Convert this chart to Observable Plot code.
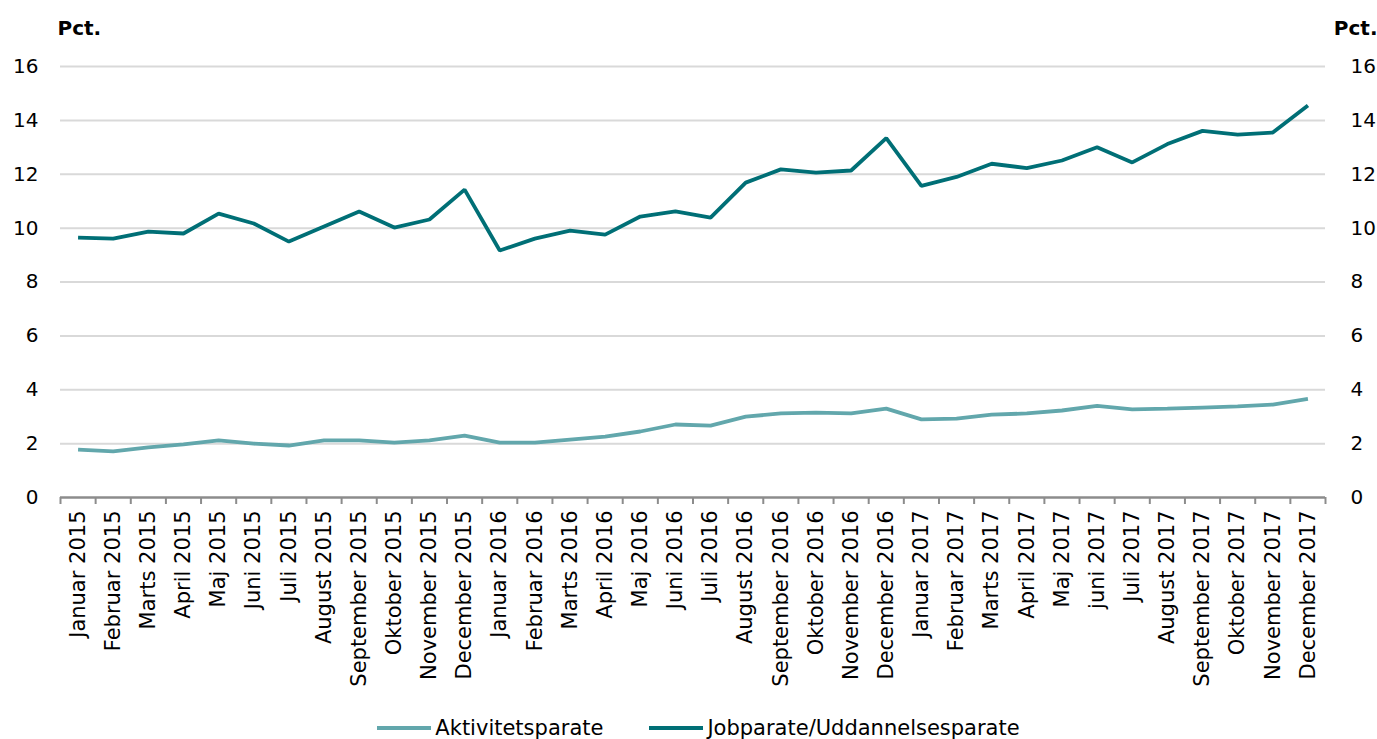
<!DOCTYPE html>
<html>
<head>
<meta charset="utf-8">
<script src="https://cdn.jsdelivr.net/npm/d3@7"></script>
<script src="https://cdn.jsdelivr.net/npm/@observablehq/plot@0.6"></script>
<style>
  body { margin: 0; background: #fff; font-family: "DejaVu Sans", Verdana, sans-serif; }
  #legend { display: flex; justify-content: center; align-items: center; gap: 46px; margin-top: 10px; font-size: 21px; line-height: 24px; padding-left: 20px; color: #000; }
  .item { display: flex; align-items: center; gap: 4px; }
  .sw { width: 54px; height: 4px; display: inline-block; }
</style>
</head>
<body>
<div id="chart"></div>
<div id="legend"></div>
<script>
const months = ["Januar 2015","Februar 2015","Marts 2015","April 2015","Maj 2015","Juni 2015","Juli 2015","August 2015","September 2015","Oktober 2015","November 2015","December 2015",
"Januar 2016","Februar 2016","Marts 2016","April 2016","Maj 2016","Juni 2016","Juli 2016","August 2016","September 2016","Oktober 2016","November 2016","December 2016",
"Januar 2017","Februar 2017","Marts 2017","April 2017","Maj 2017","juni 2017","Juli 2017","August 2017","September 2017","Oktober 2017","November 2017","December 2017"];

const aktivitetsparate = [1.78,1.71,1.86,1.97,2.12,2.00,1.93,2.12,2.12,2.04,2.12,2.30,
2.04,2.04,2.15,2.26,2.45,2.71,2.67,3.00,3.12,3.15,3.12,3.30,
2.90,2.93,3.08,3.12,3.23,3.40,3.27,3.30,3.34,3.38,3.45,3.66];

const jobparate = [9.65,9.61,9.87,9.80,10.54,10.17,9.50,10.06,10.62,10.02,10.32,11.43,
9.17,9.61,9.91,9.76,10.43,10.62,10.39,11.69,12.18,12.06,12.14,13.34,
11.57,11.90,12.39,12.23,12.51,13.00,12.44,13.12,13.61,13.47,13.55,14.55];

const seriesNames = ["Aktivitetsparate", "Jobparate/Uddannelsesparate"];
const seriesColors = ["#62a7ac", "#006f76"];
const yTicks = [0, 2, 4, 6, 8, 10, 12, 14, 16];
const unitLabel = "Pct.";

const data = [];
months.forEach((m, i) => {
  data.push({i, month: m, series: seriesNames[0], value: aktivitetsparate[i]});
  data.push({i, month: m, series: seriesNames[1], value: jobparate[i]});
});
const idx = d3.range(months.length);
const bounds = d3.range(months.length + 1).map(i => i - 0.5);

const chart = Plot.plot({
  width: 1377,
  height: 706,
  marginLeft: 60,
  marginRight: 52,
  marginTop: 66,
  marginBottom: 209,
  style: {fontFamily: "DejaVu Sans, Verdana, sans-serif", fontSize: "20px", color: "#000", background: "#fff"},
  x: {domain: [-0.5, months.length - 0.5], label: null, axis: null},
  y: {domain: [0, 16], label: null, axis: null},
  color: {domain: seriesNames, range: seriesColors},
  marks: [
    Plot.gridY(yTicks.filter(d => d > 0), {stroke: "#d9d9d9", strokeOpacity: 1, strokeWidth: 2}),
    Plot.axisY(yTicks, {anchor: "left", tickSize: 0, tickPadding: 22, label: null, fontSize: 20}),
    Plot.axisY(yTicks, {anchor: "right", tickSize: 0, tickPadding: 25, label: null, fontSize: 20}),
    Plot.axisX(idx, {anchor: "bottom", tickFormat: i => months[i], tickRotate: -90, tickSize: 0, tickPadding: 13, label: null, fontSize: 21}),
    Plot.axisX(bounds, {anchor: "bottom", tickFormat: () => "", tickSize: 7, stroke: "#8c8c8c", strokeWidth: 2, label: null}),
    Plot.ruleY([0], {stroke: "#8c8c8c", strokeWidth: 2.5}),
    Plot.lineY(data, {x: "i", y: "value", z: "series", stroke: "series", strokeWidth: 3.8, strokeLinejoin: "miter", strokeLinecap: "butt"}),
    Plot.text([unitLabel], {frameAnchor: "top-left", textAnchor: "start", dx: -3, dy: -46, fontWeight: "bold", fontSize: 20}),
    Plot.text([unitLabel], {frameAnchor: "top-right", textAnchor: "end", dx: 52, dy: -46, fontWeight: "bold", fontSize: 20})
  ]
});
document.getElementById("chart").appendChild(chart);

const legend = document.getElementById("legend");
seriesNames.forEach((name, k) => {
  const item = document.createElement("div");
  item.className = "item";
  const sw = document.createElement("span");
  sw.className = "sw";
  sw.style.background = seriesColors[k];
  const t = document.createElement("span");
  t.textContent = name;
  item.appendChild(sw);
  item.appendChild(t);
  legend.appendChild(item);
});
</script>
</body>
</html>
